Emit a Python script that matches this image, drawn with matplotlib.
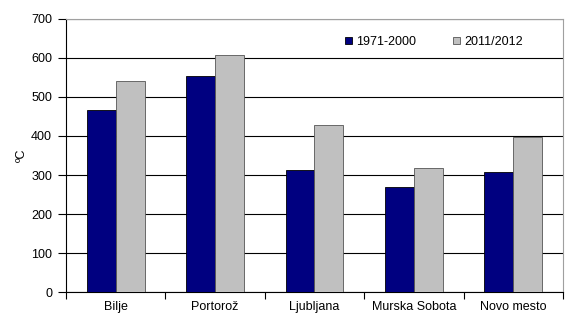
import matplotlib
matplotlib.use("Agg")
import matplotlib.pyplot as plt
import numpy as np

categories = ["Bilje", "Portorož", "Ljubljana", "Murska Sobota", "Novo mesto"]
series_names = ["1971-2000", "2011/2012"]
values_1971 = [466, 555, 313, 268, 307]
values_2011 = [540, 608, 427, 318, 397]
yticks = [0, 100, 200, 300, 400, 500, 600, 700]

plt.rcParams['font.family'] = ['Liberation Sans', 'DejaVu Sans']
fig = plt.figure(figsize=(5.66, 3.15), dpi=100)
ax = fig.add_axes([0.1166, 0.073, 0.878, 0.8667])

x = np.arange(len(categories))
w = 0.29
ax.bar(x - w/2, values_1971, w, color='#000080', edgecolor='black', linewidth=0.6, label=series_names[0], zorder=3)
ax.bar(x + w/2, values_2011, w, color='#c0c0c0', edgecolor='#555555', linewidth=0.6, label=series_names[1], zorder=3)

ax.set_xlim(-0.5, len(categories) - 0.5)
ax.set_ylim(0, 700)
ax.set_yticks(yticks)
ax.yaxis.grid(True, color='black', linewidth=0.8, zorder=0)
ax.set_axisbelow(True)

ax.set_xticks(np.arange(len(categories) + 1) - 0.5)
ax.set_xticklabels([])
ax.set_xticks(x, minor=True)
ax.set_xticklabels(categories, minor=True)
ax.tick_params(axis='x', which='minor', length=0, pad=6.5, labelsize=9)
ax.tick_params(axis='x', which='major', length=5, direction='out', width=0.8)
ax.tick_params(axis='y', length=6, direction='out', width=0.8, labelsize=9, pad=4)

for s in ['top', 'right']:
    ax.spines[s].set_color('#a0a0a0')
    ax.spines[s].set_linewidth(0.8)
for s in ['left', 'bottom']:
    ax.spines[s].set_color('black')
    ax.spines[s].set_linewidth(0.8)

ax.set_ylabel('ºC', fontsize=9, labelpad=2)

leg = ax.legend(loc='center left', bbox_to_anchor=(0.561, 0.916), ncol=2, frameon=False,
                borderpad=0, borderaxespad=0,
                handlelength=0.56, handleheight=0.56, handletextpad=0.35, columnspacing=2.95,
                fontsize=9)

fig.savefig('out.png', dpi=100)
